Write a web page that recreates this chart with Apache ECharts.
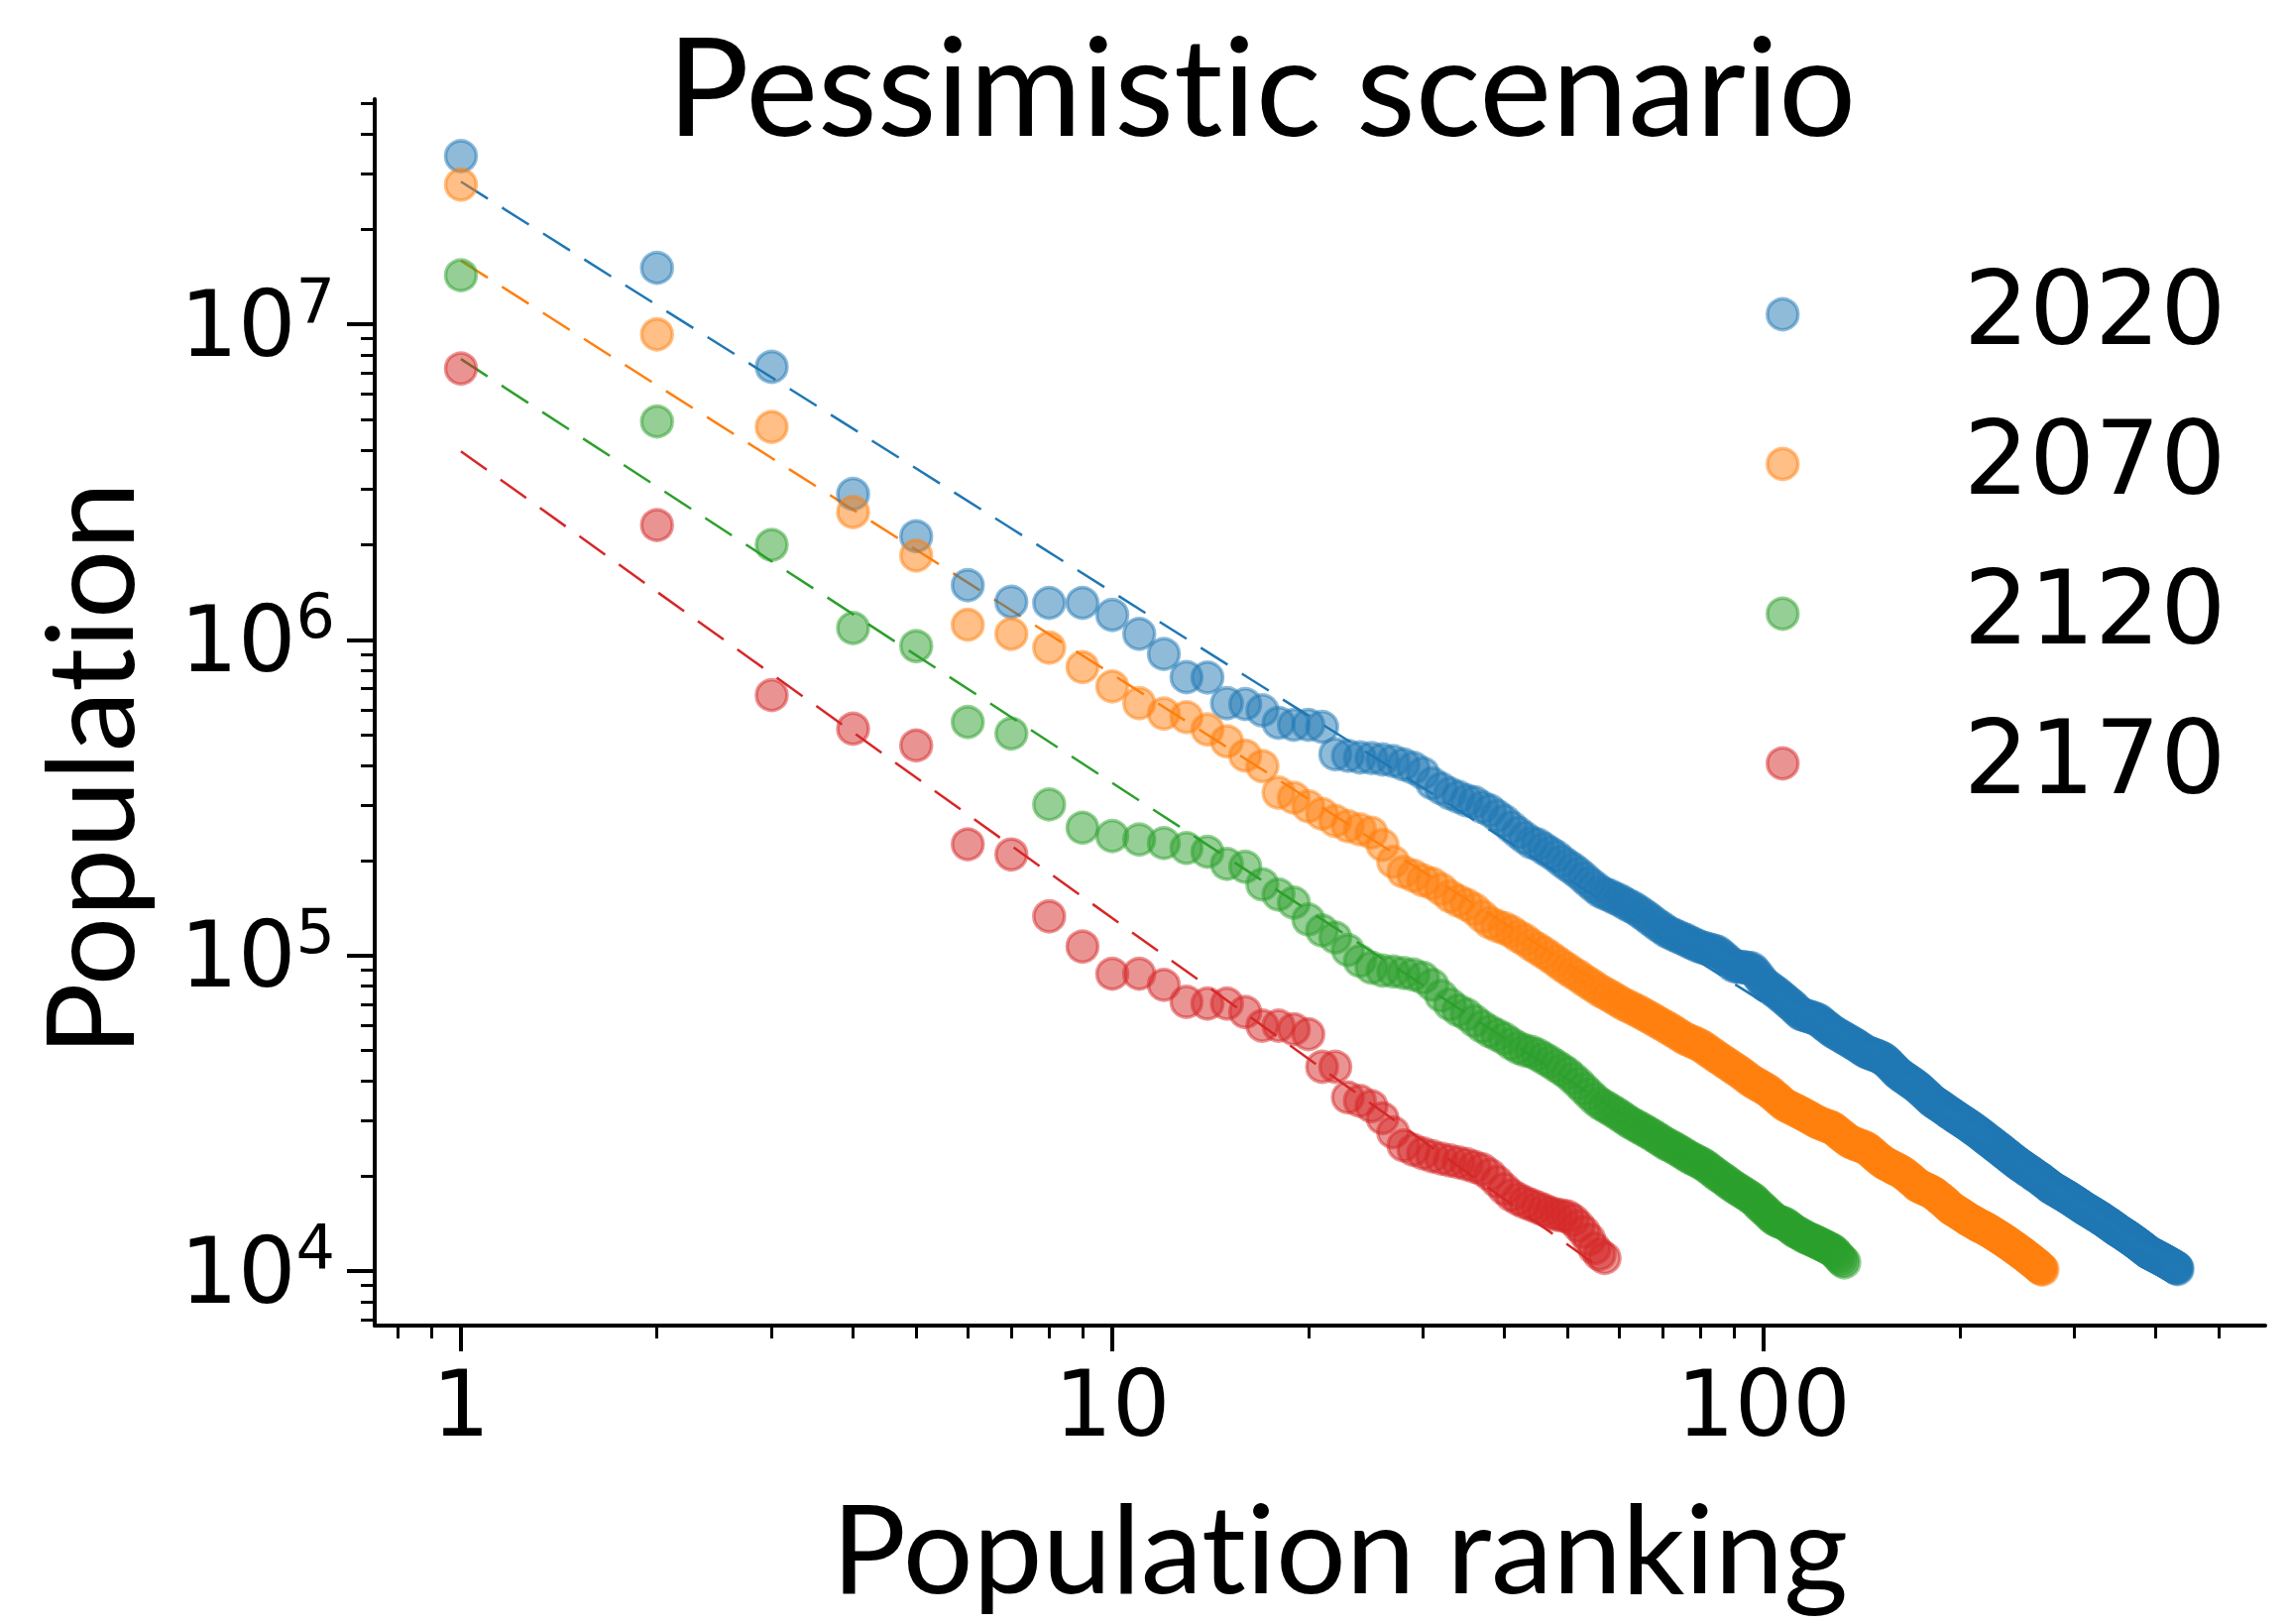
<!DOCTYPE html>
<html>
<head>
<meta charset="utf-8">
<script src="https://cdn.jsdelivr.net/npm/echarts@6/dist/echarts.min.js"></script>
<style>
  html, body { margin: 0; padding: 0; background: #ffffff; }
  #chart { width: 2310px; height: 1638px; }
  #chart text { font-variant-ligatures: none; font-feature-settings: "liga" 0, "clig" 0; }
</style>
</head>
<body>
<div id="chart"></div>
<script>
// ---------------- data (population by rank) ----------------
const years = ['2020', '2070', '2120', '2170'];
const colors = ['#1f77b4', '#ff7f0e', '#2ca02c', '#d62728'];

const pop2020 = [
  34100000, 15100000, 7330000, 2900000, 2130000, 1490000, 1320000, 1310000, 1310000, 1200000,
  1045000, 902000, 762000, 760000, 630000, 626000, 598000, 546000, 538000, 538000,
  530000, 434000, 429000, 424000, 422000, 418000, 413000, 403000, 393000, 378000,
  351000, 338000, 326000, 318000, 310000, 306000, 295000, 288000, 277000, 267000,
  255000, 245000, 236000, 228000, 225000, 218000, 212000, 206000, 199000, 193000,
  188000, 182000, 176000, 170000, 165000, 160000, 157000, 155000, 152000, 150000,
  147000, 144000, 142000, 139000, 136000, 133000, 130000, 127000, 124000, 122000,
  119000, 117500, 116000, 114500, 113000, 112000, 110000, 109000, 107500, 106500,
  105500, 105000, 104000, 103500, 102700, 100500, 98500, 96500, 94500, 92500,
  92200, 92000, 91800, 91500, 91200, 91000, 89000, 86500, 84000, 82000,
  80000, 79500, 78000, 77000, 76000, 74500, 73500, 72400, 71000, 70000,
  69000, 67500, 66500, 65200, 64800, 64500, 64200, 63800, 63500, 63000,
  62700, 62000, 61000, 60200, 59500, 58700, 58000, 57200, 56700, 56200,
  55700, 55200, 54700, 54200, 53700, 53200, 52800, 52300, 51800, 51300,
  50800, 50300, 49800, 49400, 49100, 48900, 48600, 48400, 48100, 47900,
  47600, 47300, 47000, 46400, 45800, 45200, 44600, 44000, 43400, 42800,
  42300, 41800, 41500, 41100, 40800, 40400, 40100, 39700, 39400, 39100,
  38700, 38400, 38000, 37600, 37200, 36800, 36400, 36000, 35600, 35200,
  34800, 34500, 34200, 34000, 33700, 33500, 33200, 33000, 32700, 32500,
  32200, 32000, 31700, 31500, 31300, 31100, 30800, 30600, 30400, 30200,
  30000, 29800, 29600, 29400, 29200, 29000, 28800, 28600, 28400, 28200,
  28000, 27800, 27600, 27400, 27200, 27000, 26800, 26600, 26400, 26200,
  26000, 25800, 25700, 25500, 25300, 25100, 24900, 24800, 24600, 24400,
  24300, 24100, 23900, 23700, 23600, 23400, 23300, 23100, 22900, 22800,
  22600, 22500, 22300, 22200, 22000, 21900, 21800, 21600, 21500, 21400,
  21300, 21200, 21000, 20900, 20800, 20700, 20600, 20500, 20300, 20200,
  20100, 20000, 19900, 19800, 19700, 19600, 19500, 19300, 19200, 19100,
  19000, 18900, 18800, 18700, 18500, 18400, 18350, 18300, 18200, 18100,
  18000, 17950, 17900, 17800, 17700, 17650, 17600, 17500, 17400, 17350,
  17300, 17200, 17100, 17050, 17000, 16900, 16800, 16750, 16700, 16600,
  16500, 16450, 16400, 16300, 16200, 16150, 16100, 16000, 15900, 15850,
  15800, 15700, 15650, 15600, 15550, 15500, 15400, 15350, 15300, 15250,
  15200, 15100, 15050, 15000, 14950, 14900, 14800, 14750, 14700, 14650,
  14600, 14500, 14450, 14400, 14350, 14300, 14200, 14150, 14100, 14050,
  14000, 13900, 13850, 13800, 13750, 13700, 13600, 13550, 13500, 13450,
  13400, 13350, 13300, 13250, 13200, 13150, 13100, 13050, 13000, 12950,
  12900, 12850, 12800, 12750, 12700, 12650, 12600, 12550, 12500, 12450,
  12400, 12350, 12300, 12250, 12200, 12150, 12100, 12050, 12000, 11950,
  11900, 11850, 11800, 11750, 11700, 11650, 11600, 11550, 11500, 11450,
  11420, 11390, 11360, 11330, 11300, 11270, 11240, 11210, 11180, 11150,
  11120, 11090, 11060, 11030, 11000, 10970, 10940, 10910, 10880, 10850,
  10820, 10790, 10760, 10730, 10700, 10670, 10640, 10610, 10580, 10550,
  10520, 10490, 10460, 10430, 10400, 10370, 10340, 10310, 10280, 10250,
  10200, 10150
];

const pop2070 = [
  27700000, 9290000, 4730000, 2540000, 1850000, 1117000, 1045000, 945000, 820000, 712000,
  630000, 584000, 569000, 520000, 477000, 430000, 398000, 328000, 316000, 297000,
  281000, 267000, 257000, 251000, 245000, 224000, 198000, 184000, 179000, 173000,
  169000, 162000, 154000, 149000, 145000, 140000, 133000, 127000, 124000, 122000,
  119000, 115000, 112000, 108000, 105000, 102000, 99000, 96000, 93000, 90500,
  88000, 86000, 83500, 81500, 79500, 77500, 76000, 74500, 73000, 71500,
  70000, 69000, 67800, 66800, 65600, 64500, 63400, 62300, 61200, 60200,
  59200, 58200, 57200, 56200, 55200, 54300, 53700, 53100, 52500, 51800,
  51000, 50000, 49200, 48300, 47500, 46800, 46000, 45300, 44600, 43900,
  43300, 42600, 41900, 41200, 40500, 39900, 39400, 38900, 38500, 38000,
  37500, 37100, 36400, 35800, 35200, 34600, 34000, 33500, 33200, 32900,
  32600, 32300, 32000, 31700, 31400, 31100, 30800, 30500, 30200, 29900,
  29600, 29400, 29200, 29000, 28800, 28700, 28500, 28300, 27900, 27500,
  27200, 26800, 26500, 26200, 25900, 25600, 25500, 25300, 25200, 25000,
  24900, 24800, 24600, 24500, 24200, 23900, 23600, 23300, 23000, 22800,
  22500, 22300, 22000, 21900, 21700, 21600, 21400, 21300, 21100, 21000,
  20900, 20700, 20600, 20400, 20200, 20000, 19800, 19600, 19400, 19200,
  19000, 18700, 18600, 18500, 18400, 18300, 18200, 18100, 18000, 17900,
  17800, 17700, 17600, 17400, 17200, 17100, 16900, 16800, 16600, 16500,
  16300, 16100, 16000, 15800, 15700, 15600, 15500, 15400, 15300, 15200,
  15100, 15000, 14900, 14800, 14700, 14600, 14500, 14400, 14350, 14300,
  14200, 14100, 14000, 13950, 13900, 13800, 13750, 13700, 13620, 13550,
  13470, 13400, 13320, 13250, 13170, 13100, 13020, 12950, 12870, 12800,
  12720, 12650, 12580, 12500, 12430, 12360, 12280, 12210, 12140, 12060,
  11990, 11920, 11850, 11770, 11700, 11630, 11560, 11490, 11420, 11350,
  11280, 11210, 11140, 11070, 11000, 10930, 10860, 10790, 10720, 10650,
  10580, 10510, 10440, 10370, 10300, 10230, 10160, 10100
];

const pop2120 = [
  14300000, 4920000, 2000000, 1090000, 955000, 549000, 505000, 301000, 254000, 239000,
  233000, 227000, 219000, 213000, 195000, 191000, 168000, 156000, 147000, 130000,
  120000, 114000, 104000, 96000, 91500, 89500, 89000, 88000, 87000, 85000,
  80700, 74500, 70000, 67000, 65000, 62000, 59500, 57500, 56000, 54500,
  52500, 51000, 50000, 49500, 48500, 47200, 46000, 44700, 43500, 42300,
  40800, 39300, 37800, 36400, 35100, 34000, 33300, 32600, 31900, 31200,
  30500, 29800, 29200, 28700, 28200, 27700, 27200, 26700, 26200, 25700,
  25200, 24900, 24500, 24100, 23700, 23300, 22900, 22600, 22300, 22000,
  21700, 21300, 20900, 20500, 20100, 19800, 19500, 19100, 18800, 18500,
  18200, 18000, 17700, 17500, 17200, 17000, 16700, 16300, 16000, 15700,
  15400, 15100, 14800, 14600, 14400, 14300, 14200, 14100, 13900, 13700,
  13500, 13300, 13200, 13100, 12900, 12800, 12700, 12600, 12500, 12400,
  12300, 12200, 12100, 12000, 11900, 11800, 11700, 11600, 11400, 11200,
  11000, 10800, 10650
];

const pop2170 = [
  7240000, 2310000, 668000, 523000, 463000, 225000, 209000, 133000, 106700, 87500,
  87500, 80700, 71300, 70400, 70400, 66200, 59900, 59900, 58400, 56300,
  44400, 44400, 35500, 34600, 33300, 30500, 27500, 25000, 24200, 23600,
  23100, 22700, 22400, 22100, 21800, 21400, 21000, 20200, 19200, 18200,
  17400, 16900, 16500, 16200, 15900, 15600, 15300, 15100, 15000, 14900,
  14500, 13900, 13300, 12600, 11800, 11300, 11000
];

// power-law fit lines: value at rank 1 and at the last rank of each year
const fitAtFirst = [28300000, 15900000, 7760000, 3960000];
const fitAtLast = [10600, 10450, 10900, 10000];

// axis tick labels
const xTickValues = [1, 10, 100];
const yTickValues = [10000, 100000, 1000000, 10000000];

// ---------------- chart ----------------
const popSeries = [pop2020, pop2070, pop2120, pop2170];
const series = [];
popSeries.forEach(function (vals, k) {
  series.push({
    name: years[k],
    type: 'scatter',
    data: vals.map(function (v, i) { return [i + 1, v]; }),
    symbol: 'circle',
    symbolSize: 31,
    itemStyle: { color: colors[k], opacity: 0.5, borderColor: colors[k], borderWidth: 3.5 },
    emphasis: { disabled: true },
    z: 2
  });
  series.push({
    name: 'fit ' + years[k],
    type: 'line',
    data: [[1, fitAtFirst[k]], [vals.length, fitAtLast[k]]],
    showSymbol: false,
    symbol: 'none',
    lineStyle: { color: colors[k], width: 2.5, type: [32, 17] },
    emphasis: { disabled: true },
    silent: true,
    z: 2
  });
});

const chart = echarts.init(document.getElementById('chart'), null, { renderer: 'svg' });
chart.setOption({
  animation: false,
  backgroundColor: '#ffffff',
  title: {
    text: 'Pessimistic scenario',
    left: 673,
    top: 14,
    padding: 0,
    textStyle: { fontFamily: 'Lato', fontWeight: 'normal', fontSize: 138, color: '#000' }
  },
  legend: {
    data: years,
    orient: 'vertical',
    left: 1781,
    top: 259,
    padding: 0,
    itemWidth: 31,
    itemHeight: 31,
    itemGap: 35,
    itemStyle: { borderWidth: 3.5 },
    selectedMode: false,
    formatter: function (n) { return '{g| }{t|' + n + '}'; },
    textStyle: {
      lineHeight: 104,
      rich: {
        g: { width: 162, fontSize: 10, lineHeight: 104 },
        t: { fontFamily: 'DejaVu Sans', fontSize: 104, color: '#000', lineHeight: 104, padding: [0, 0, 12, 0] }
      }
    }
  },
  grid: { left: 378, right: 25, top: 100, bottom: 301, containLabel: false },
  xAxis: {
    type: 'log',
    logBase: 10,
    min: 0.7373,
    max: 589,
    name: 'Population ranking',
    nameLocation: 'middle',
    nameGap: 159,
    nameTextStyle: { fontFamily: 'Lato', fontSize: 125, color: '#000', padding: [0, 0, 0, 40] },
    axisLine: { onZero: false, lineStyle: { color: '#000', width: 4 } },
    axisTick: { show: true, length: 26, lineStyle: { color: '#000', width: 4 }, customValues: xTickValues },
    minorTick: { show: true, splitNumber: 9, length: 13, lineStyle: { color: '#000', width: 3 } },
    axisLabel: { customValues: xTickValues, margin: 33, fontFamily: 'DejaVu Sans', fontSize: 92, color: '#000' },
    splitLine: { show: false },
    minorSplitLine: { show: false }
  },
  yAxis: {
    type: 'log',
    logBase: 10,
    min: 6718,
    max: 51700000,
    name: 'Population',
    nameLocation: 'middle',
    nameGap: 229,
    nameTextStyle: { fontFamily: 'Lato', fontSize: 123, color: '#000', padding: [0, 114, 0, 0] },
    axisLine: { onZero: false, lineStyle: { color: '#000', width: 4 } },
    axisTick: { show: true, length: 28, lineStyle: { color: '#000', width: 4 }, customValues: yTickValues },
    minorTick: { show: true, splitNumber: 9, length: 14, lineStyle: { color: '#000', width: 3 } },
    axisLabel: {
      customValues: yTickValues,
      margin: 40,
      formatter: function (v) { return '{b|10}{s|' + Math.round(Math.log10(v)) + '}'; },
      rich: {
        b: { fontFamily: 'DejaVu Sans', fontSize: 92, color: '#000', lineHeight: 110 },
        s: { fontFamily: 'DejaVu Sans', fontSize: 62, color: '#000', lineHeight: 48, verticalAlign: 'top' }
      }
    },
    splitLine: { show: false },
    minorSplitLine: { show: false }
  },
  series: series
});
</script>
</body>
</html>
